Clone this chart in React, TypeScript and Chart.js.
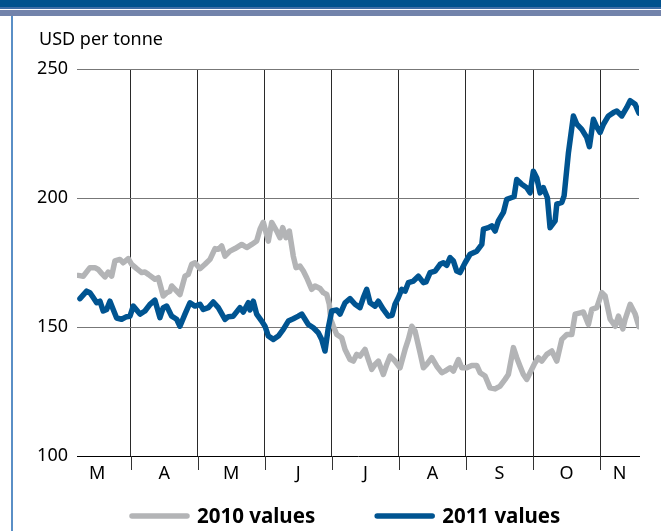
import React, { useEffect, useRef } from 'react';
import { Chart, registerables } from 'chart.js';

Chart.register(...registerables);

const FONT = "'Noto Sans', 'Open Sans', sans-serif";

const unitLabel = 'USD per tonne';
const monthLabels = ['M', 'A', 'M', 'J', 'J', 'A', 'S', 'O', 'N'];
const monthLabelPos = [0.5, 1.5, 2.5, 3.5, 4.5, 5.5, 6.5, 7.5, 8.29];
const monthBoundaries = [1, 2, 3, 4, 5, 6, 7, 8];
const yTicks = [100, 150, 200, 250];
const seriesNames = ['2010 values', '2011 values'];

// x = position in months (0 = 1 March, 1 = 1 April, ... 8 = 1 November)
const x2010 = [0.218, 0.293, 0.393, 0.467, 0.517, 0.567, 0.617, 0.666, 0.717, 0.766,
  0.840, 0.890, 0.964, 1.015, 1.090, 1.164, 1.213, 1.263, 1.362, 1.412,
  1.486, 1.537, 1.586, 1.612, 1.661, 1.735, 1.810, 1.859, 1.910, 1.959,
  2.034, 2.108, 2.183, 2.258, 2.307, 2.357, 2.407, 2.481, 2.556, 2.656,
  2.730, 2.805, 2.879, 2.929, 2.978, 3.053, 3.103, 3.178, 3.227, 3.267,
  3.317, 3.366, 3.425, 3.466, 3.525, 3.575, 3.625, 3.700, 3.749, 3.824,
  3.873, 3.924, 3.962, 3.983, 4.022, 4.073, 4.147, 4.197, 4.271, 4.321,
  4.371, 4.420, 4.495, 4.544, 4.595, 4.644, 4.693, 4.768, 4.819, 4.868,
  4.942, 5.017, 5.092, 5.141, 5.192, 5.241, 5.316, 5.365, 5.415, 5.490,
  5.565, 5.639, 5.688, 5.763, 5.812, 5.887, 5.937, 6.012, 6.086, 6.161,
  6.210, 6.285, 6.359, 6.434, 6.508, 6.583, 6.632, 6.707, 6.757, 6.806,
  6.856, 6.907, 6.956, 7.031, 7.080, 7.130, 7.205, 7.280, 7.354, 7.429,
  7.504, 7.578, 7.628, 7.703, 7.751, 7.826, 7.876, 7.951, 8.026, 8.075,
  8.150, 8.225, 8.274, 8.339, 8.373, 8.448, 8.523, 8.58];

const v2010 = [170.0, 169.7, 173, 173, 172.3, 170.8, 169.4, 171.3, 169.7, 175.6,
  176.2, 174.9, 176.5, 174.3, 172.6, 171.1, 171.3, 170.4, 168.5, 169.1,
  162.0, 163.3, 163.9, 165.9, 164.6, 162.6, 169.7, 170.4, 174.3, 174.9,
  172.6, 174.3, 176.2, 180.4, 180.1, 181.4, 177.5, 179.4, 180.4, 182.0,
  180.8, 182, 183.3, 187.9, 190.6, 183.3, 190.5, 187.2, 184.6, 188.5,
  184.6, 187.2, 177.5, 173, 173.6, 171.7, 169.1, 164.6, 165.9, 164.9,
  163.3, 162.6, 158.8, 153, 150.3, 147.1, 145.8, 141.3, 137.4, 136.8,
  139.4, 138.7, 141.3, 137.4, 133.6, 135.5, 136.8, 131.6, 135.5, 138.7,
  136.8, 134.2, 141.3, 145.2, 150.3, 148.4, 140, 134.2, 135.5, 138.1,
  134.8, 132.3, 132.9, 134.2, 132.9, 137.4, 134.2, 134.2, 135.1, 135.1,
  132.3, 131, 126.4, 126, 127.1, 129.7, 131.6, 142, 138.1, 134.8,
  131.6, 129.7, 132.3, 136.2, 138.1, 136.8, 139.4, 140.7, 136.8, 145.2,
  147.1, 147.1, 155, 155.5, 155.8, 151, 156.8, 157.5, 163.3, 162,
  153, 150.3, 154.2, 149.3, 153, 158.8, 155, 150.1];

const x2011 = [0.244, 0.344, 0.393, 0.442, 0.493, 0.542, 0.591, 0.642, 0.691, 0.740,
  0.791, 0.866, 0.940, 0.990, 1.039, 1.139, 1.213, 1.288, 1.362, 1.437,
  1.486, 1.537, 1.612, 1.686, 1.735, 1.810, 1.884, 1.959, 2.034, 2.083,
  2.158, 2.232, 2.307, 2.407, 2.456, 2.530, 2.630, 2.680, 2.754, 2.779,
  2.829, 2.879, 2.954, 3.003, 3.053, 3.127, 3.202, 3.276, 3.351, 3.425,
  3.500, 3.551, 3.600, 3.649, 3.724, 3.798, 3.849, 3.898, 3.947, 3.998,
  4.073, 4.122, 4.197, 4.271, 4.346, 4.420, 4.470, 4.520, 4.570, 4.644,
  4.693, 4.768, 4.842, 4.898, 4.942, 4.992, 5.042, 5.092, 5.141, 5.216,
  5.290, 5.365, 5.405, 5.465, 5.540, 5.614, 5.663, 5.713, 5.763, 5.812,
  5.862, 5.912, 5.987, 6.061, 6.111, 6.161, 6.236, 6.260, 6.334, 6.384,
  6.434, 6.483, 6.558, 6.608, 6.683, 6.717, 6.757, 6.832, 6.907, 6.956,
  7.005, 7.056, 7.105, 7.154, 7.214, 7.254, 7.329, 7.354, 7.429, 7.463,
  7.528, 7.602, 7.653, 7.727, 7.802, 7.841, 7.900, 7.951, 8.000, 8.050,
  8.124, 8.199, 8.249, 8.324, 8.398, 8.448, 8.523, 8.58];

const v2011 = [161, 163.9, 163.3, 161.4, 159.4, 160, 156.2, 156.8, 160, 156.8,
  153.5, 153, 154, 154.2, 158.1, 155, 156.2, 158.8, 160.4, 153.6,
  157.5, 158.1, 154.2, 153, 150.3, 155, 159.4, 158.1, 158.8, 156.8,
  157.5, 159.7, 157.5, 153, 154, 154.2, 157.5, 155.8, 159.4, 156.6,
  160, 155, 152.3, 150.3, 146.5, 145.2, 146.5, 149.1, 152.3, 153.2,
  154.2, 155, 153, 151, 149.7, 147.8, 145.2, 140.7, 149.7, 156.2,
  156.6, 155, 159.4, 161, 158.8, 157.5, 161.4, 164.6, 159.4, 158.1,
  160, 156.8, 154.2, 154.5, 158.8, 161.4, 164.6, 163.9, 167.2, 167.8,
  169.7, 167.2, 167.5, 171.1, 171.7, 174.3, 174.9, 173.9, 176.9, 175.6,
  171.7, 171.1, 174.9, 178.2, 178.8, 179.4, 182, 187.9, 188.5, 189.2,
  187.2, 191.1, 194.4, 199.5, 200.2, 200.5, 207.2, 205.3, 204, 202,
  210.4, 207.8, 202, 204, 200.1, 188.5, 191.1, 197.6, 198.3, 200.8,
  217.6, 231.8, 228.6, 226.6, 223.4, 219.9, 230.5, 227.5, 225.4, 228.6,
  231.8, 233.1, 233.7, 231.8, 235.1, 237.7, 236.3, 232.9];

const GRAY = '#b3b4b6';
const BLUE = '#005491';

const decorPlugin = {
  id: 'decor',
  afterDraw(chart: any) {
    const { ctx, chartArea, scales } = chart;
    const x = scales.x;
    ctx.save();
    // month separator ticks below the axis
    ctx.strokeStyle = '#333';
    ctx.lineWidth = 1;
    monthBoundaries.forEach((b) => {
      const px = Math.round(x.getPixelForValue(b)) + 0.5;
      ctx.beginPath();
      ctx.moveTo(px, chartArea.bottom);
      ctx.lineTo(px, chartArea.bottom + 14);
      ctx.stroke();
    });
    // unit label
    ctx.fillStyle = '#000';
    ctx.font = `18px ${FONT}`;
    ctx.textAlign = 'left';
    ctx.textBaseline = 'alphabetic';
    ctx.fillText(unitLabel, chartArea.left - 38, chartArea.top - 24);
    // legend
    const colors = chart.data.datasets.map((d: any) => d.borderColor);
    ctx.font = `bold 20.5px ${FONT}`;
    ctx.textBaseline = 'middle';
    let lx = 132;
    const ly = 516;
    seriesNames.forEach((name, i) => {
      ctx.strokeStyle = colors[i];
      ctx.lineWidth = 5.5;
      ctx.lineCap = 'round';
      ctx.beginPath();
      ctx.moveTo(lx, ly);
      ctx.lineTo(lx + 55, ly);
      ctx.stroke();
      const tx = lx + 65;
      ctx.fillStyle = '#000';
      ctx.fillText(name, tx, ly + 1);
      lx = tx + ctx.measureText(name).width + 62;
    });
    ctx.restore();
  },
};

export default function App() {
  const canvasRef = useRef<HTMLCanvasElement | null>(null);

  useEffect(() => {
    const canvas = canvasRef.current;
    if (!canvas) return;
    const allXTicks = [...monthBoundaries, ...monthLabelPos].sort((a, b) => a - b);
    const chart = new Chart(canvas, {
      type: 'line',
      data: {
        datasets: [
          {
            label: seriesNames[0],
            data: x2010.map((xv, i) => ({ x: xv, y: v2010[i] })),
            borderColor: GRAY,
            backgroundColor: GRAY,
            borderWidth: 5.5,
            pointRadius: 0,
            tension: 0,
            borderJoinStyle: 'round',
            borderCapStyle: 'round',
            order: 1,
          },
          {
            label: seriesNames[1],
            data: x2011.map((xv, i) => ({ x: xv, y: v2011[i] })),
            borderColor: BLUE,
            backgroundColor: BLUE,
            borderWidth: 5.5,
            pointRadius: 0,
            tension: 0,
            borderJoinStyle: 'round',
            borderCapStyle: 'round',
            order: 0,
          },
        ],
      },
      options: {
        animation: false,
        responsive: false,
        maintainAspectRatio: false,
        events: [],
        layout: { padding: { top: 69, right: 22, bottom: 45, left: 0 } },
        plugins: {
          legend: { display: false },
          tooltip: { enabled: false },
          title: { display: false },
        },
        scales: {
          x: {
            type: 'linear',
            min: 0.2,
            max: 8.58,
            afterBuildTicks: (s: any) => {
              s.ticks = allXTicks.map((v) => ({ value: v }));
            },
            afterFit: (s: any) => {
              s.height = 30;
            },
            grid: {
              drawTicks: false,
              lineWidth: 1,
              color: (c: any) =>
                c.tick && monthBoundaries.includes(c.tick.value) ? '#2a2a2a' : 'rgba(0,0,0,0)',
            },
            border: { display: true, color: '#000', width: 1 },
            ticks: {
              autoSkip: false,
              maxRotation: 0,
              padding: 7,
              color: '#000',
              font: { family: FONT, size: 18 },
              callback: (v: any) => {
                const i = monthLabelPos.indexOf(Number(v));
                return i >= 0 ? monthLabels[i] : '';
              },
            },
          },
          y: {
            min: 100,
            max: 250,
            afterBuildTicks: (s: any) => {
              s.ticks = yTicks.map((v) => ({ value: v }));
            },
            afterFit: (s: any) => {
              s.width = 77;
            },
            grid: {
              drawTicks: false,
              lineWidth: 1,
              color: (c: any) => (c.tick && c.tick.value === 100 ? 'rgba(0,0,0,0)' : '#777'),
            },
            border: { display: false },
            ticks: {
              padding: 9,
              color: '#000',
              font: { family: FONT, size: 18 },
            },
          },
        },
      },
      plugins: [decorPlugin],
    });
    return () => chart.destroy();
  }, []);

  return (
    <div
      style={{
        position: 'fixed',
        left: 0,
        top: 0,
        width: 661,
        height: 531,
        background: '#fff',
        overflow: 'hidden',
      }}
    >
      <canvas
        ref={canvasRef}
        width={661}
        height={531}
        style={{ position: 'absolute', left: 0, top: 0, width: 661, height: 531 }}
      />
      <div style={{ position: 'absolute', left: 0, top: 0, width: 661, height: 7, background: '#00528e' }} />
      <div style={{ position: 'absolute', left: 0, top: 7, width: 661, height: 2, background: '#3e6ea6' }} />
      <div style={{ position: 'absolute', left: 0, top: 10, width: 661, height: 6, background: '#7283ab' }} />
      <div style={{ position: 'absolute', left: 11, top: 16, width: 2, height: 515, background: '#5a8fc6' }} />
    </div>
  );
}
